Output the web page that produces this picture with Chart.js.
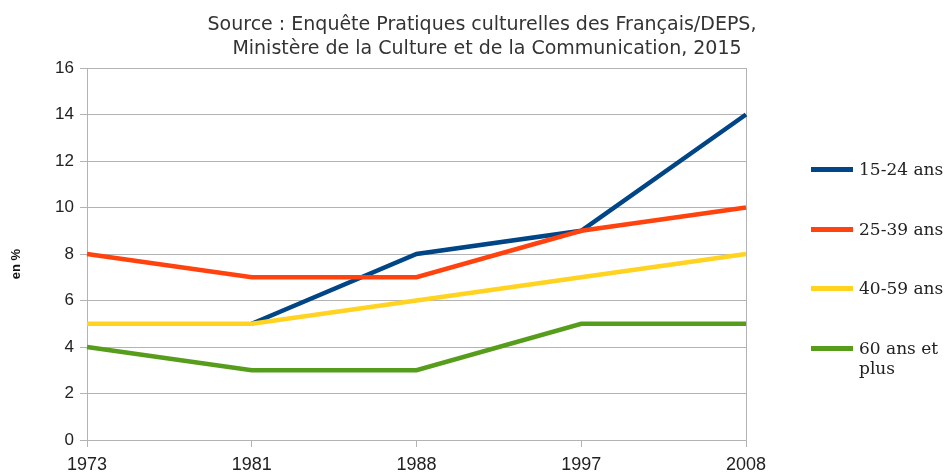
<!DOCTYPE html>
<html><head><meta charset="utf-8">
<script src="https://cdn.jsdelivr.net/npm/chart.js@4.4.1/dist/chart.umd.min.js"></script>
<style>
html,body{margin:0;padding:0;background:#fff}
#wrap{position:relative;width:950px;height:474px;overflow:hidden}
#c{position:absolute;left:0;top:0}
.li{position:absolute;left:811px;width:139px;height:44px}
.sw{position:absolute;left:0;top:8px;width:42px;height:5px}
.tx{position:absolute;left:48px;top:0;width:90px;font:17px "DejaVu Serif",serif;line-height:20px;color:#222}
</style></head><body>
<div id="wrap"><canvas id="c" width="950" height="474"></canvas><div id="legend"></div></div>
<script>
const YEARS = ['1973', '1981', '1988', '1997', '2008'];
const S_15_24 = [null, 5, 8, 9, 14];
const S_25_39 = [8, 7, 7, 9, 10];
const S_40_59 = [5, 5, 6, 7, 8];
const S_60P = [4, 3, 3, 5, 5];
const SERIES_LABELS = ['15-24 ans', '25-39 ans', '40-59 ans', '60 ans et plus'];
const SERIES_COLORS = ['#004586', '#ff420e', '#ffd320', '#579d1c'];
const Y_MIN = 0, Y_MAX = 16, Y_STEP = 2;
const TITLE_LINES = ['Source : Enquête Pratiques culturelles des Français/DEPS,', 'Ministère de la Culture et de la Communication, 2015'];
const Y_TITLE = 'en %';

const SERIES = [S_15_24, S_25_39, S_40_59, S_60P];
const GRID = '#b3b3b3';

const textPlugin = {
  id: 'texts',
  afterDraw(chart) {
    const ctx = chart.ctx;
    ctx.save();
    ctx.fillStyle = '#333';
    ctx.textAlign = 'center';
    ctx.textBaseline = 'alphabetic';
    ctx.font = '19px "DejaVu Sans", sans-serif';
    ctx.fillText(TITLE_LINES[0], 482, 30);
    ctx.fillText(TITLE_LINES[1], 487, 54);
    ctx.textBaseline = 'middle';
    ctx.translate(16, 264);
    ctx.rotate(-Math.PI / 2);
    ctx.fillStyle = '#111';
    ctx.font = 'bold 13px "Liberation Sans", Arial, sans-serif';
    ctx.fillText(Y_TITLE, 0, 0);
    ctx.restore();
  }
};

new Chart(document.getElementById('c'), {
  type: 'line',
  data: {
    labels: YEARS,
    datasets: SERIES.map((d, i) => ({
      label: SERIES_LABELS[i],
      data: d,
      borderColor: SERIES_COLORS[i],
      backgroundColor: SERIES_COLORS[i],
      borderWidth: 4.5,
      pointRadius: 0,
      tension: 0,
      fill: false,
      order: SERIES.length - i
    }))
  },
  options: {
    responsive: false,
    animation: false,
    layout: {padding: {top: 68, right: 204, left: 0, bottom: 0}},
    plugins: {legend: {display: false}, title: {display: false}, tooltip: {enabled: false}},
    scales: {
      x: {
        type: 'category',
        offset: false,
        afterFit(s) { s.height = 34; },
        grid: {
          color: (c) => (c.index === 0 || c.index === YEARS.length - 1) ? GRID : 'rgba(0,0,0,0)',
          tickColor: GRID, tickLength: 7, drawTicks: true
        },
        border: {display: true, color: GRID},
        ticks: {color: '#222', font: {family: '"Liberation Sans", Arial, sans-serif', size: 18}, padding: 7, maxRotation: 0, autoSkip: false}
      },
      y: {
        min: Y_MIN, max: Y_MAX,
        afterFit(s) { s.width = 87; },
        grid: {color: GRID, tickColor: GRID, tickLength: 7},
        border: {display: true, color: GRID},
        ticks: {stepSize: Y_STEP, color: '#222', font: {family: '"Liberation Sans", Arial, sans-serif', size: 17}, padding: 6}
      }
    }
  },
  plugins: [textPlugin]
});

const leg = document.getElementById('legend');
SERIES_LABELS.forEach((lab, i) => {
  const it = document.createElement('div');
  it.className = 'li';
  it.style.top = (159 + i * 59.5) + 'px';
  const sw = document.createElement('div');
  sw.className = 'sw';
  sw.style.background = SERIES_COLORS[i];
  const tx = document.createElement('div');
  tx.className = 'tx';
  tx.textContent = lab;
  it.appendChild(sw); it.appendChild(tx);
  leg.appendChild(it);
});
</script>
</body></html>
